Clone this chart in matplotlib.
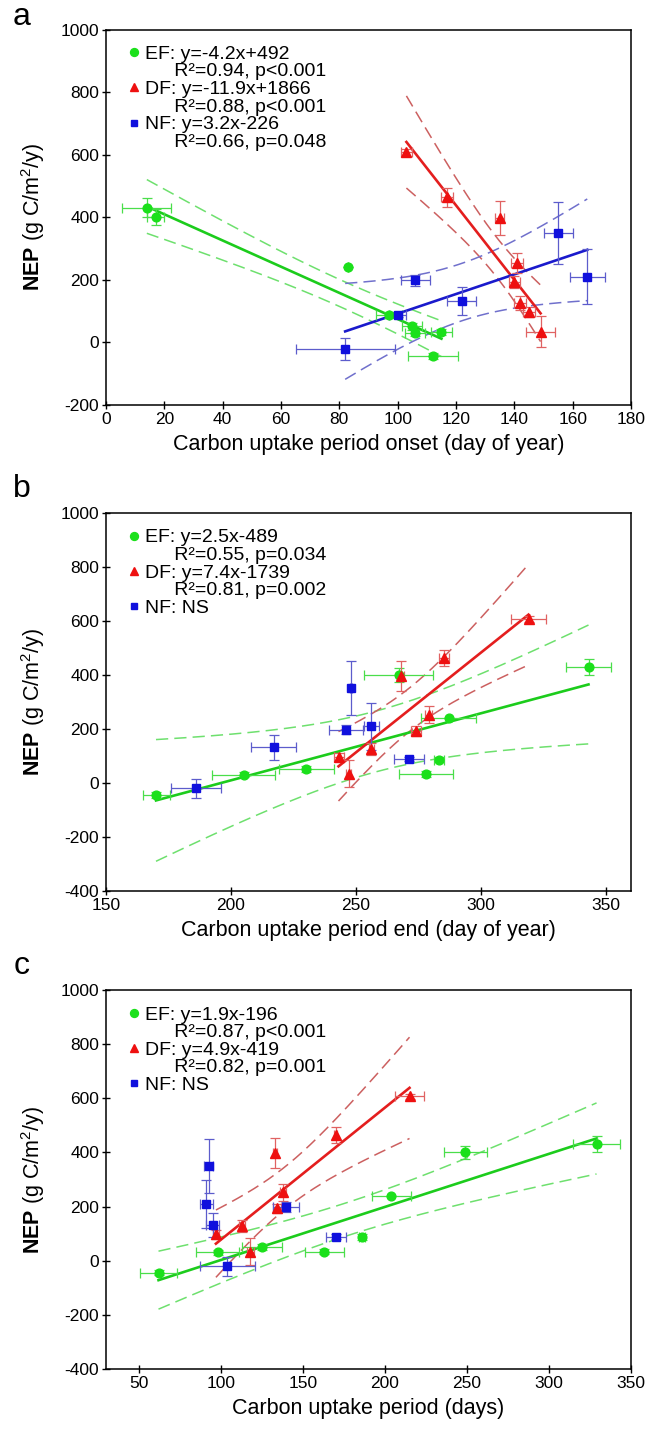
import numpy as np
import matplotlib
matplotlib.use('Agg')
import matplotlib.pyplot as plt
from matplotlib.lines import Line2D

plt.rcParams['font.family'] = ['Liberation Sans', 'DejaVu Sans']
plt.rcParams['mathtext.fontset'] = 'custom'
plt.rcParams['mathtext.rm'] = 'Liberation Sans'
plt.rcParams['mathtext.bf'] = 'Liberation Sans:bold'
plt.rcParams['axes.unicode_minus'] = False

# NEP of each site (g C/m2/y), same sites in all three panels
ef_nep = [430, 400, 240, 87, 51, 34, 31, -44]
ef_nep_err = [30, 25, 0, 10, 12, 10, 10, 10]
df_nep = [607, 464, 397, 253, 193, 127, 97, 34]
df_nep_err = [10, 30, 55, 32, 18, 22, 15, 50]
nf_nep = [-20, 89, 198, 132, 350, 210]
nf_nep_err = [35, 8, 18, 45, 100, 88]

# a: carbon uptake period onset (day of year)
ef_onset = [14, 17, 83, 97, 105, 115, 106, 112]
ef_onset_err = [8.4, 3, 0, 4.5, 3.5, 3.5, 3.5, 8.6]
df_onset = [103, 117, 135, 141, 140, 142, 145, 149]
df_onset_err = [2, 2, 1.5, 2, 2, 2, 2, 5]
nf_onset = [82, 100, 106, 122, 155, 165]
nf_onset_err = [17, 3, 5, 5, 5, 6]

# b: carbon uptake period end (day of year)
ef_end = [343, 267, 287, 283, 230, 278, 205, 170]
ef_end_err = [9, 13.8, 11, 2, 11, 10.7, 12.6, 5.4]
df_end = [319, 285, 268, 279, 274, 256, 243, 247]
df_end_err = [7, 2, 1, 1.5, 2, 1, 2, 1]
nf_end = [186, 271, 246, 217, 248, 256]
nf_end_err = [10, 6, 6.7, 9, 0.5, 3]

# c: carbon uptake period (days)
ef_cup = [329, 249, 204, 186, 125, 163, 98, 62]
ef_cup_err = [14.5, 13, 12, 2, 12, 12, 13, 11]
df_cup = [215, 170, 133, 138, 134, 113, 97, 118]
df_cup_err = [9, 1, 1, 2, 2.5, 2, 2, 2]
nf_cup = [104, 170, 139.5, 95, 92.5, 91]
nf_cup_err = [17, 6, 8, 4, 3, 4]

legend_a = ['EF: y=-4.2x+492', 'R\u00b2=0.94, p<0.001',
            'DF: y=-11.9x+1866', 'R\u00b2=0.88, p<0.001',
            'NF: y=3.2x-226', 'R\u00b2=0.66, p=0.048']
legend_b = ['EF: y=2.5x-489', 'R\u00b2=0.55, p=0.034',
            'DF: y=7.4x-1739', 'R\u00b2=0.81, p=0.002',
            'NF: NS']
legend_c = ['EF: y=1.9x-196', 'R\u00b2=0.87, p<0.001',
            'DF: y=4.9x-419', 'R\u00b2=0.82, p=0.001',
            'NF: NS']

T95 = {6: 2.447, 4: 2.776}   # student t, 95%, by degrees of freedom

GREEN = dict(mk='#1be01b', err='#4ade4a', fit='#1ccc1c', band='#6ee06e', m='o', ms=6.3)
RED = dict(mk='#ee1010', err='#e06262', fit='#e41e1e', band='#cc6060', m='^', ms=6.8)
BLUE = dict(mk='#1010dd', err='#5c5ccc', fit='#1a1acc', band='#7070cc', m='s', ms=5.6)


def fit_band(ax, x, y, st):
    x = np.asarray(x, float)
    y = np.asarray(y, float)
    n = len(x)
    slope, icpt = np.polyfit(x, y, 1)
    xs = np.linspace(x.min(), x.max(), 200)
    s = np.sqrt(np.sum((y - (slope * x + icpt)) ** 2) / (n - 2))
    se = s * np.sqrt(1 / n + (xs - x.mean()) ** 2 / np.sum((x - x.mean()) ** 2))
    yh = slope * xs + icpt
    for sgn in (1, -1):
        ax.plot(xs, yh + sgn * T95[n - 2] * se, color=st['band'], lw=1.1,
                dashes=(8, 4), zorder=2)
    ax.plot(xs, yh, color=st['fit'], lw=1.9, zorder=3)


def points(ax, x, xe, y, ye, st):
    ax.errorbar(x, y, xerr=xe, yerr=ye, fmt='none', ecolor=st['err'],
                elinewidth=0.9, capsize=3.5, capthick=0.9, zorder=4)
    ax.plot(x, y, ls='none', marker=st['m'], ms=st['ms'], color=st['mk'],
            mec=st['mk'], zorder=5)


def legend(ax, labels):
    blank = Line2D([], [], ls='none')
    marks = [Line2D([], [], ls='none', marker=st['m'], ms=st['ms'] - 0.6,
                    color=st['mk']) for st in (GREEN, RED, BLUE)]
    handles = [marks[0], blank, marks[1], blank, marks[2], blank][:len(labels)]
    labs = [lab if i % 2 == 0 else '\u2002\u2002\u2002' + lab
            for i, lab in enumerate(labels)]
    ax.legend(handles, labs, loc='upper left', bbox_to_anchor=(0.044, 0.958),
              frameon=False, fontsize=14, handlelength=0.55,
              handletextpad=0.25, labelspacing=0.0, borderpad=0.0,
              borderaxespad=0.0)


def style(ax, xlim, ylim, xticks, yticks, xlabel):
    ax.set_xlim(*xlim)
    ax.set_ylim(*ylim)
    ax.set_xticks(xticks)
    ax.set_yticks(yticks)
    ax.tick_params(direction='inout', length=6, width=1, labelsize=12.5, pad=2)
    for sp in ax.spines.values():
        sp.set_linewidth(1.1)
    ax.set_xlabel(xlabel, fontsize=15.5, labelpad=5)
    ax.set_ylabel(r'$\mathbf{NEP}$ (g C/m$^2$/y)', fontsize=15.5, labelpad=10)


fig = plt.figure(figsize=(6.57, 14.36), dpi=100)
W, H = 657.0, 1436.0
L, R = 106, 631
ax_a = fig.add_axes([L / W, 1 - 405 / H, (R - L) / W, 375.5 / H])
ax_b = fig.add_axes([L / W, 1 - 891 / H, (R - L) / W, 378 / H])
ax_c = fig.add_axes([L / W, 1 - 1369 / H, (R - L) / W, 379 / H])

# a
fit_band(ax_a, ef_onset, ef_nep, GREEN)
fit_band(ax_a, df_onset, df_nep, RED)
fit_band(ax_a, nf_onset, nf_nep, BLUE)
points(ax_a, ef_onset, ef_onset_err, ef_nep, ef_nep_err, GREEN)
points(ax_a, df_onset, df_onset_err, df_nep, df_nep_err, RED)
points(ax_a, nf_onset, nf_onset_err, nf_nep, nf_nep_err, BLUE)
legend(ax_a, legend_a)
style(ax_a, (0, 180), (-200, 1000), range(0, 181, 20), range(-200, 1001, 200),
      'Carbon uptake period onset (day of year)')

# b
fit_band(ax_b, ef_end, ef_nep, GREEN)
fit_band(ax_b, df_end, df_nep, RED)
points(ax_b, ef_end, ef_end_err, ef_nep, ef_nep_err, GREEN)
points(ax_b, df_end, df_end_err, df_nep, df_nep_err, RED)
points(ax_b, nf_end, nf_end_err, nf_nep, nf_nep_err, BLUE)
legend(ax_b, legend_b)
style(ax_b, (150, 360), (-400, 1000), range(150, 351, 50), range(-400, 1001, 200),
      'Carbon uptake period end (day of year)')

# c
fit_band(ax_c, ef_cup, ef_nep, GREEN)
fit_band(ax_c, df_cup, df_nep, RED)
points(ax_c, ef_cup, ef_cup_err, ef_nep, ef_nep_err, GREEN)
points(ax_c, df_cup, df_cup_err, df_nep, df_nep_err, RED)
points(ax_c, nf_cup, nf_cup_err, nf_nep, nf_nep_err, BLUE)
legend(ax_c, legend_c)
style(ax_c, (30, 350), (-400, 1000), range(50, 351, 50), range(-400, 1001, 200),
      'Carbon uptake period (days)')

for letter, ypx in (('a', 17), ('b', 489), ('c', 966)):
    fig.text(22 / W, 1 - ypx / H, letter, fontsize=23, ha='center', va='center')

fig.savefig('out.png', dpi=100)
